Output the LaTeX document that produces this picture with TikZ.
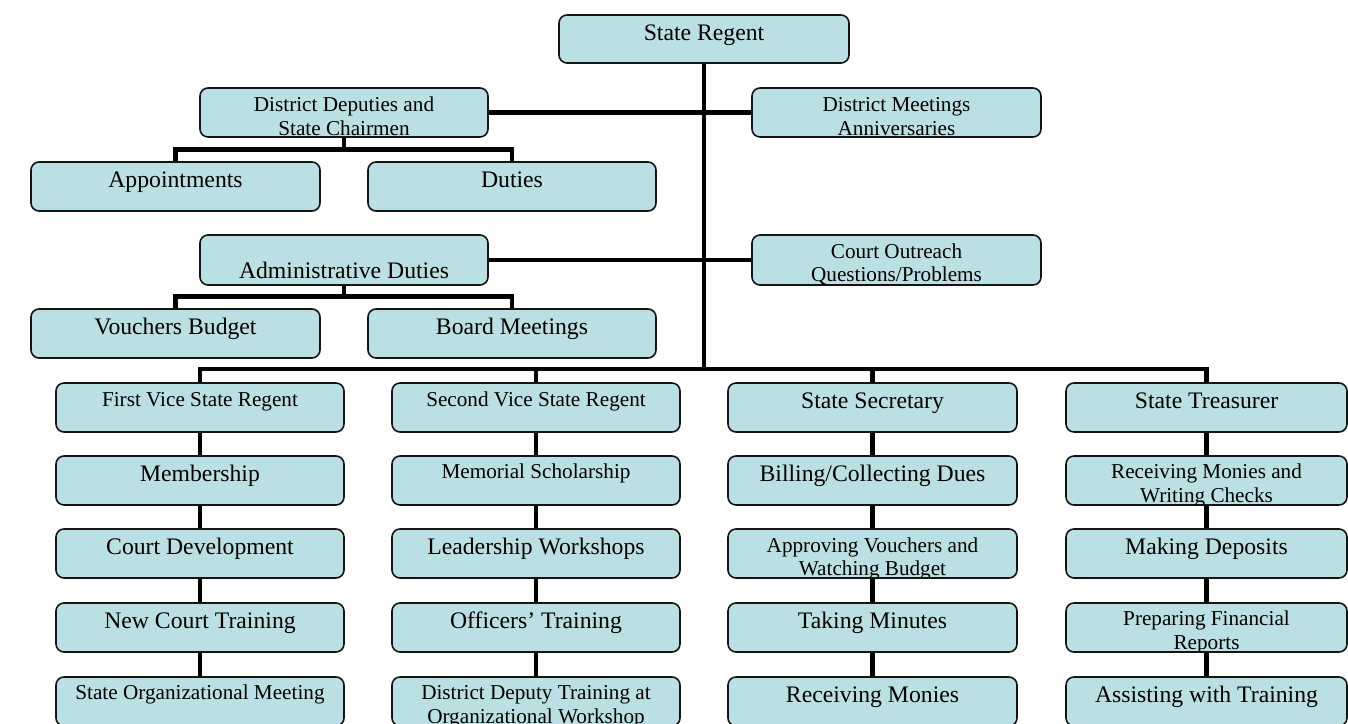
\documentclass[tikz,border=0pt]{standalone}
\usepackage{fontspec}
\setmainfont{Liberation Serif}
\usetikzlibrary{backgrounds}
\definecolor{boxfill}{RGB}{187,224,227}
\definecolor{boxline}{RGB}{20,20,20}
\tikzset{
  obox/.style={draw=boxline, line width=1.6pt, fill=boxfill, rounded corners=8pt,
    inner sep=0pt, outer sep=0pt, anchor=north west},
  conn/.style={draw=black, line width=4.7pt},
  big/.style={font=\fontsize{23.7}{28}\selectfont},
  small/.style={font=\fontsize{21.2}{25}\selectfont},
}
\newcommand\orgbox[5]{\node[obox, minimum width={#4-#2}, minimum height={#5-#3}] (#1) at (#2,#3) {};}
\newcommand\boxline[5]{%
  \begin{scope}
    \clip[rounded corners=7pt] ([shift={(0.8pt,-0.8pt)}]#1.north west) rectangle ([shift={(-0.8pt,0.8pt)}]#1.south east);
    \node[anchor=base, inner sep=0pt, #4] (#2) at ([yshift=-#3pt]#1.north) {#5};
  \end{scope}}
\begin{document}
\begin{tikzpicture}[x=1pt,y=-1pt]
\useasboundingbox (0,0) rectangle (1348,723);
\clip (0,0) rectangle (1348,723);
% top part
\orgbox{sr}{559}{15}{849}{63}
\boxline{sr}{srt}{25.7}{big}{State Regent}
\orgbox{dd}{200}{88}{488}{137}
\boxline{dd}{ddt1}{23}{small}{District Deputies and}
\boxline{dd}{ddt2}{47}{small}{State Chairmen}
\orgbox{dm}{752}{88}{1041}{137}
\boxline{dm}{dmt1}{23}{small}{District Meetings}
\boxline{dm}{dmt2}{47}{small}{Anniversaries}
\orgbox{app}{31}{162}{320}{211}
\boxline{app}{appt}{25.5}{big}{Appointments}
\orgbox{dut}{368}{162}{656}{211}
\boxline{dut}{dutt}{25.5}{big}{Duties}
\orgbox{ad}{200}{235}{488}{285}
\boxline{ad}{adt}{43.5}{big}{Administrative Duties}
\orgbox{co}{752}{235}{1041}{285}
\boxline{co}{cot1}{23.3}{small}{Court Outreach}
\boxline{co}{cot2}{46.8}{small}{Questions/Problems}
\orgbox{vb}{31}{309}{320}{358}
\boxline{vb}{vbt}{25.5}{big}{Vouchers Budget}
\orgbox{bm}{368}{309}{656}{358}
\boxline{bm}{bmt}{25.5}{big}{Board Meetings}
% column 1
\orgbox{fv}{56}{383}{344}{432}
\boxline{fv}{fvt}{23}{small}{First Vice State Regent}
\orgbox{mem}{56}{456}{344}{505}
\boxline{mem}{memt}{25.7}{big}{Membership}
\orgbox{cd}{56}{529}{344}{578}
\boxline{cd}{cdt}{25.7}{big}{Court Development}
\orgbox{nct}{56}{603}{344}{652}
\boxline{nct}{nctt}{25.7}{big}{New Court Training}
\orgbox{som}{56}{677}{344}{726}
\boxline{som}{somt}{22.5}{small}{State Organizational Meeting}
% column 2
\orgbox{sv}{392}{383}{680}{432}
\boxline{sv}{svt}{23}{small}{Second Vice State Regent}
\orgbox{ms}{392}{456}{680}{505}
\boxline{ms}{mst}{22.5}{small}{Memorial Scholarship}
\orgbox{lw}{392}{529}{680}{578}
\boxline{lw}{lwt}{25.7}{big}{Leadership Workshops}
\orgbox{ot}{392}{603}{680}{652}
\boxline{ot}{ott}{25.7}{big}{Officers’ Training}
\orgbox{ddt}{392}{677}{680}{726}
\boxline{ddt}{ddtt1}{22.5}{small}{District Deputy Training at}
\boxline{ddt}{ddtt2}{46.5}{small}{Organizational Workshop}
% column 3
\orgbox{ss}{728}{383}{1017}{432}
\boxline{ss}{sst}{25.7}{big}{State Secretary}
\orgbox{bcd}{728}{456}{1017}{505}
\boxline{bcd}{bcdt}{25.7}{big}{Billing/Collecting Dues}
\orgbox{avw}{728}{529}{1017}{578}
\boxline{avw}{avwt1}{23.5}{small}{Approving Vouchers and}
\boxline{avw}{avwt2}{46.5}{small}{Watching Budget}
\orgbox{tm}{728}{603}{1017}{652}
\boxline{tm}{tmt}{25.7}{big}{Taking Minutes}
\orgbox{rm}{728}{677}{1017}{726}
\boxline{rm}{rmt}{25.7}{big}{Receiving Monies}
% column 4
\orgbox{tr}{1066}{383}{1347}{432}
\boxline{tr}{trt}{25.7}{big}{State Treasurer}
\orgbox{rmw}{1066}{456}{1347}{505}
\boxline{rmw}{rmwt1}{22.5}{small}{Receiving Monies and}
\boxline{rmw}{rmwt2}{46}{small}{Writing Checks}
\orgbox{md}{1066}{529}{1347}{578}
\boxline{md}{mdt}{25.7}{big}{Making Deposits}
\orgbox{pfr}{1066}{603}{1347}{652}
\boxline{pfr}{pfrt1}{22.7}{small}{Preparing Financial}
\boxline{pfr}{pfrt2}{46.2}{small}{Reports}
\orgbox{awt}{1066}{677}{1347}{726}
\boxline{awt}{awtt}{25.7}{big}{Assisting with Training}
% connectors
\coordinate (hub) at (704,369);
\coordinate (ddj) at (344,149.5);
\coordinate (adj) at (344,296.5);
\begin{pgfonlayer}{background}
\draw[conn] (sr.south) -- (hub);
\draw[conn] (dd.east) -- (dm.west);
\draw[conn] (ad.east) -- (co.west);
\draw[conn] (dd.south) -- (ddj);
\draw[conn] (app.north) |- (ddj) -| (dut.north);
\draw[conn] (ad.south) -- (adj);
\draw[conn] (vb.north) |- (adj) -| (bm.north);
\draw[conn] (fv.north) |- (hub) -| (tr.north);
\draw[conn] (sv.north) -- (sv.north |- hub);
\draw[conn] (ss.north) -- (ss.north |- hub);
\draw[conn] (fv.south) -- (mem.north);
\draw[conn] (mem.south) -- (cd.north);
\draw[conn] (cd.south) -- (nct.north);
\draw[conn] (nct.south) -- (som.north);
\draw[conn] (sv.south) -- (ms.north);
\draw[conn] (ms.south) -- (lw.north);
\draw[conn] (lw.south) -- (ot.north);
\draw[conn] (ot.south) -- (ddt.north);
\draw[conn] (ss.south) -- (bcd.north);
\draw[conn] (bcd.south) -- (avw.north);
\draw[conn] (avw.south) -- (tm.north);
\draw[conn] (tm.south) -- (rm.north);
\draw[conn] (tr.south) -- (rmw.north);
\draw[conn] (rmw.south) -- (md.north);
\draw[conn] (md.south) -- (pfr.north);
\draw[conn] (pfr.south) -- (awt.north);
\end{pgfonlayer}
\end{tikzpicture}
\end{document}
